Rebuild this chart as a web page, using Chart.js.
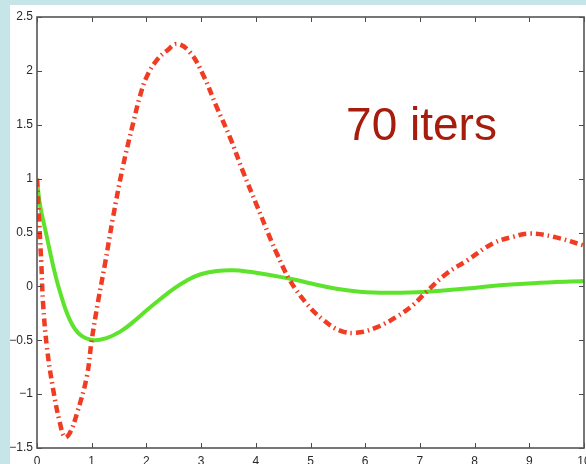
<!DOCTYPE html>
<html>
<head>
<meta charset="utf-8">
<script src="https://cdn.jsdelivr.net/npm/chart.js@4.4.1/dist/chart.umd.min.js"></script>
<style>
  html, body { margin: 0; padding: 0; background: #c6e5e9; }
  #wrap { width: 586px; height: 464px; }
</style>
</head>
<body>
<div id="wrap"><canvas id="c" width="586" height="464"></canvas></div>
<script>
// Oscillating response after 70 iterations: dash-dot (red) and solid (green) traces
const redX = [0, 0.04, 0.08, 0.11, 0.18, 0.29, 0.42, 0.51, 0.6, 0.73, 0.91, 1.0, 1.12, 1.24, 1.39, 1.57, 1.76, 1.88, 2.0, 2.19, 2.38, 2.56, 2.8, 3.04, 3.28, 3.53, 3.77, 4.02, 4.26, 4.38, 4.62, 4.93, 5.23, 5.54, 5.84, 6.21, 6.58, 6.88, 7.12, 7.49, 7.86, 8.34, 8.7, 9.01, 9.44, 10];
const redY = [1, 0.6, 0.2, -0.15, -0.56, -0.94, -1.27, -1.40, -1.36, -1.18, -0.84, -0.5, -0.13, 0.2, 0.64, 1.11, 1.52, 1.76, 1.94, 2.1, 2.19, 2.25, 2.17, 1.96, 1.67, 1.38, 1.06, 0.75, 0.45, 0.31, 0.06, -0.16, -0.31, -0.41, -0.43, -0.38, -0.28, -0.17, -0.05, 0.12, 0.24, 0.40, 0.46, 0.49, 0.46, 0.38];

const greenX = [0, 0.05, 0.18, 0.3, 0.42, 0.6, 0.79, 1.03, 1.27, 1.52, 1.76, 2.01, 2.25, 2.49, 2.74, 2.98, 3.29, 3.58, 3.89, 4.2, 4.63, 5.3, 5.9, 6.5, 7.12, 7.86, 8.46, 9.07, 10];
const greenY = [1, 0.77, 0.46, 0.18, -0.05, -0.31, -0.45, -0.5, -0.48, -0.42, -0.33, -0.22, -0.12, -0.025, 0.055, 0.11, 0.142, 0.15, 0.135, 0.11, 0.07, -0.005, -0.05, -0.06, -0.05, -0.02, 0.01, 0.03, 0.05];

const xTickValues = [0, 1, 2, 3, 4, 5, 6, 7, 8, 9, 10];
const xTickLabels = ['0', '1', '2', '3', '4', '5', '6', '7', '8', '9', '10'];
const yTickValues = [2.5, 2, 1.5, 1, 0.5, 0, -0.5, -1, -1.5];
const yTickLabels = ['2.5', '2', '1.5', '1', '0.5', '0', '\u22120.5', '\u22121', '\u22121.5'];

const annotationText = '70 iters';
const annotationAt = { x: 5.65, y: 1.36 };

const toPoints = (xs, ys) => xs.map((x, i) => ({ x: x, y: ys[i] }));

// Light-blue page with a white panel behind the axes
const panelPlugin = {
  id: 'panel',
  beforeDraw(chart) {
    const ctx = chart.ctx;
    ctx.save();
    ctx.fillStyle = '#c6e5e9';
    ctx.fillRect(0, 0, chart.width, chart.height);
    ctx.fillStyle = '#ffffff';
    ctx.fillRect(10, 5, chart.width - 10, chart.height - 5);
    ctx.restore();
  }
};

// Boxed frame with inward ticks on all four sides, plus the text label
const framePlugin = {
  id: 'frame',
  afterDraw(chart) {
    const ctx = chart.ctx;
    const a = chart.chartArea;
    const xs = chart.scales.x, ys = chart.scales.y;
    const len = 5;
    ctx.save();
    ctx.strokeStyle = '#4a4a4a';
    ctx.lineWidth = 1;
    ctx.beginPath();
    xTickValues.forEach(v => {
      const px = Math.round(xs.getPixelForValue(v)) + 0.5;
      ctx.moveTo(px, a.bottom); ctx.lineTo(px, a.bottom - len);
      ctx.moveTo(px, a.top); ctx.lineTo(px, a.top + len);
    });
    yTickValues.forEach(v => {
      const py = Math.round(ys.getPixelForValue(v)) + 0.5;
      ctx.moveTo(a.left, py); ctx.lineTo(a.left + len, py);
      ctx.moveTo(a.right, py); ctx.lineTo(a.right - len, py);
    });
    ctx.stroke();
    ctx.lineWidth = 1.6;
    ctx.strokeStyle = '#555555';
    ctx.strokeRect(a.left, a.top, a.right - a.left, a.bottom - a.top);

    ctx.fillStyle = '#a61c0d';
    ctx.font = '46px "Liberation Sans", Arial, sans-serif';
    ctx.textAlign = 'left';
    ctx.textBaseline = 'alphabetic';
    ctx.fillText(annotationText, xs.getPixelForValue(annotationAt.x), ys.getPixelForValue(annotationAt.y));
    ctx.restore();
  }
};

new Chart(document.getElementById('c'), {
  type: 'line',
  data: {
    datasets: [
      {
        data: toPoints(redX, redY),
        borderColor: '#f03c23',
        borderWidth: 4.5,
        borderDash: [8, 4, 1.5, 4],
        borderCapStyle: 'butt',
        pointRadius: 0,
        tension: 0.4,
        fill: false
      },
      {
        data: toPoints(greenX, greenY),
        borderColor: '#5ee32c',
        borderWidth: 4,
        pointRadius: 0,
        tension: 0.4,
        fill: false
      }
    ]
  },
  options: {
    responsive: false,
    animation: false,
    devicePixelRatio: 1,
    layout: { padding: { left: 10, top: 17, right: 2, bottom: 0 } },
    plugins: { legend: { display: false }, tooltip: { enabled: false } },
    scales: {
      x: {
        type: 'linear',
        min: 0, max: 10,
        grid: { display: false, drawTicks: false },
        border: { display: false },
        afterBuildTicks(s) { s.ticks = xTickValues.map(v => ({ value: v })); },
        afterFit(s) { s.height = 16; s.paddingLeft = 0; s.paddingRight = 0; },
        ticks: {
          padding: 6,
          color: '#2a2a2a',
          font: { family: '"Liberation Sans", Arial, sans-serif', size: 12 },
          maxRotation: 0,
          autoSkip: false,
          callback: (v) => xTickLabels[xTickValues.indexOf(v)]
        }
      },
      y: {
        type: 'linear',
        min: -1.5, max: 2.5,
        grid: { display: false, drawTicks: false },
        border: { display: false },
        afterBuildTicks(s) { s.ticks = yTickValues.map(v => ({ value: v })); },
        afterFit(s) { s.width = 27; s.paddingTop = 0; s.paddingBottom = 0; },
        ticks: {
          padding: 4,
          color: '#2a2a2a',
          font: { family: '"Liberation Sans", Arial, sans-serif', size: 12 },
          autoSkip: false,
          callback: (v) => yTickLabels[yTickValues.indexOf(v)]
        }
      }
    }
  },
  plugins: [panelPlugin, framePlugin]
});
</script>
</body>
</html>
